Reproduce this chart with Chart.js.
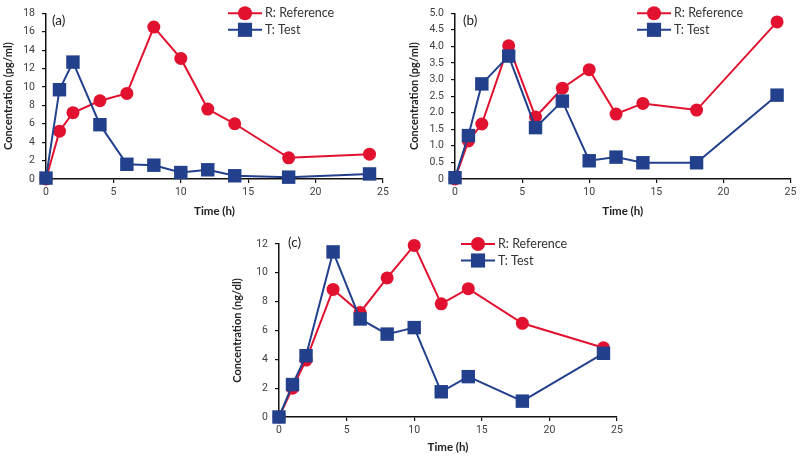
<!DOCTYPE html>
<html>
<head>
<meta charset="utf-8">
<script src="https://cdn.jsdelivr.net/npm/chart.js@4/dist/chart.umd.min.js"></script>
<style>
  html, body { margin: 0; padding: 0; background: #fff; }
  body { width: 800px; height: 456px; position: relative; overflow: hidden; }
  canvas { position: absolute; }
  #chartA { left: 0; top: 0; }
  #chartB { left: 400px; top: 0; }
  #chartC { left: 200px; top: 225px; }
</style>
</head>
<body>
<canvas id="chartA" width="400" height="222"></canvas>
<canvas id="chartB" width="400" height="222"></canvas>
<canvas id="chartC" width="440" height="233"></canvas>
<script>
"use strict";

// sampling times (h), shared by all three panels
const TIMES = [0, 1, 2, 4, 6, 8, 10, 12, 14, 18, 24];
const X_TICKS = [0, 5, 10, 15, 20, 25];

// (a) pg/ml
const A_REF = [0, 5.2, 7.2, 8.5, 9.3, 16.5, 13.1, 7.6, 6.0, 2.3, 2.7];
const A_TEST = [0.1, 9.7, 12.7, 5.9, 1.6, 1.5, 0.7, 1.0, 0.35, 0.2, 0.55];
const A_Y_TICKS = [0, 2, 4, 6, 8, 10, 12, 14, 16, 18];

// (b) pg/ml
const B_REF = [0, 1.15, 1.66, 4.02, 1.87, 2.74, 3.3, 1.96, 2.28, 2.08, 4.74];
const B_TEST = [0.04, 1.31, 2.87, 3.71, 1.55, 2.35, 0.55, 0.66, 0.49, 0.49, 2.53];
const B_Y_TICKS = [0, 0.5, 1, 1.5, 2, 2.5, 3, 3.5, 4, 4.5, 5];

// (c) ng/dl
const C_REF = [0, 2.0, 3.95, 8.85, 7.25, 9.65, 11.9, 7.85, 8.9, 6.5, 4.8];
const C_TEST = [0, 2.25, 4.25, 11.45, 6.8, 5.75, 6.2, 1.75, 2.8, 1.1, 4.42];
const C_Y_TICKS = [0, 2, 4, 6, 8, 10, 12];

const SERIES_NAMES = ["R: Reference", "T: Test"];
const RED = "#e2112f";
const BLUE = "#22408c";

Chart.defaults.font.family = "Roboto, 'Liberation Sans', sans-serif";
Chart.defaults.color = "#404040";

const pts = (ys) => TIMES.map((t, i) => ({ x: t, y: ys[i] }));

// legend drawn as line + marker, plus the panel letter
const panelDecor = {
  id: "panelDecor",
  afterDraw(chart, args, opts) {
    const { ctx, chartArea } = chart;
    ctx.save();
    ctx.font = "13.5px Lato, sans-serif";
    ctx.fillStyle = "#222";
    ctx.textBaseline = "middle";
    ctx.textAlign = "left";
    ctx.fillText(opts.letter, chartArea.left + opts.letterDx, chartArea.top + opts.letterDy);

    const items = [
      { name: SERIES_NAMES[0], color: RED, style: "circle", r: 7 },
      { name: SERIES_NAMES[1], color: BLUE, style: "rect", r: 10 },
    ];
    items.forEach((it, i) => {
      const y = chartArea.top + i * 16.5;
      const x0 = chartArea.left + 182;
      ctx.strokeStyle = it.color;
      ctx.lineWidth = 2;
      ctx.beginPath();
      ctx.moveTo(x0, y);
      ctx.lineTo(x0 + 34, y);
      ctx.stroke();
      ctx.fillStyle = it.color;
      Chart.helpers.drawPoint(ctx, { pointStyle: it.style, radius: it.r, borderWidth: 0 }, x0 + 17, y);
      ctx.fillStyle = "#333";
      ctx.font = "12.5px Lato, sans-serif";
      ctx.fillText(it.name, x0 + 37, y);
    });
    ctx.restore();
  },
};

function makePanel(id, ref, test, yTicks, yTitle, layout) {
  const yMax = yTicks[yTicks.length - 1];
  const step = yTicks[1] - yTicks[0];
  const axisLine = { display: true, color: "#111", width: 1.5 };
  const tickMarks = { display: true, drawOnChartArea: false, drawTicks: true, tickLength: 4, color: "#111", lineWidth: 1.2 };

  return new Chart(document.getElementById(id), {
    type: "line",
    data: {
      datasets: [
        {
          label: SERIES_NAMES[0],
          data: pts(ref),
          borderColor: RED,
          backgroundColor: RED,
          borderWidth: 2,
          pointStyle: "circle",
          pointRadius: 6.5,
          pointBorderWidth: 0,
          order: 1,
          clip: false,
        },
        {
          label: SERIES_NAMES[1],
          data: pts(test),
          borderColor: BLUE,
          backgroundColor: BLUE,
          borderWidth: 2,
          pointStyle: "rect",
          pointRadius: 9.5,
          pointBorderWidth: 0,
          order: 0,
          clip: false,
        },
      ],
    },
    options: {
      responsive: false,
      animation: false,
      layout: { padding: layout.padding },
      plugins: {
        legend: { display: false },
        tooltip: { enabled: false },
        panelDecor: layout.decor,
      },
      scales: {
        x: {
          type: "linear",
          min: 0,
          max: 25,
          afterBuildTicks: (s) => { s.ticks = X_TICKS.map((v) => ({ value: v })); },
          afterFit: (s) => { s.height = layout.xH; },
          grid: tickMarks,
          border: axisLine,
          ticks: { padding: 3, font: { size: 10.5 }, color: "#404040" },
          title: {
            display: true,
            text: "Time (h)",
            font: { family: "Lato, sans-serif", size: 11.5, weight: "bold" },
            color: "#222",
            padding: { top: 0, bottom: 4 },
          },
        },
        y: {
          min: 0,
          max: yMax,
          afterBuildTicks: (s) => { s.ticks = yTicks.map((v) => ({ value: v })); },
          afterFit: (s) => { s.width = layout.yW; },
          grid: tickMarks,
          border: axisLine,
          ticks: {
            padding: 7,
            font: { size: 10.5 },
            color: "#404040",
            callback: (v) => (v === 0 ? "0" : step < 1 ? v.toFixed(1) : String(v)),
          },
          title: {
            display: true,
            text: yTitle,
            font: { family: "Lato, sans-serif", size: 11, weight: "bold" },
            color: "#222",
            padding: { top: 2, bottom: 0 },
          },
        },
      },
    },
    plugins: [panelDecor],
  });
}

makePanel("chartA", A_REF, A_TEST, A_Y_TICKS, "Concentration (pg/ml)", {
  padding: { left: 0, top: 7, right: 17, bottom: 0 },
  yW: 46, xH: 43,
  decor: { letter: "(a)", letterDx: 6, letterDy: 7 },
});

makePanel("chartB", B_REF, B_TEST, B_Y_TICKS, "Concentration (pg/ml)", {
  padding: { left: 6, top: 7, right: 8, bottom: 0 },
  yW: 49, xH: 43,
  decor: { letter: "(b)", letterDx: 8, letterDy: 7 },
});

makePanel("chartC", C_REF, C_TEST, C_Y_TICKS, "Concentration (ng/dl)", {
  padding: { left: 29, top: 19, right: 23, bottom: 0 },
  yW: 50, xH: 41,
  decor: { letter: "(c)", letterDx: 9, letterDy: -1 },
});
</script>
</body>
</html>
